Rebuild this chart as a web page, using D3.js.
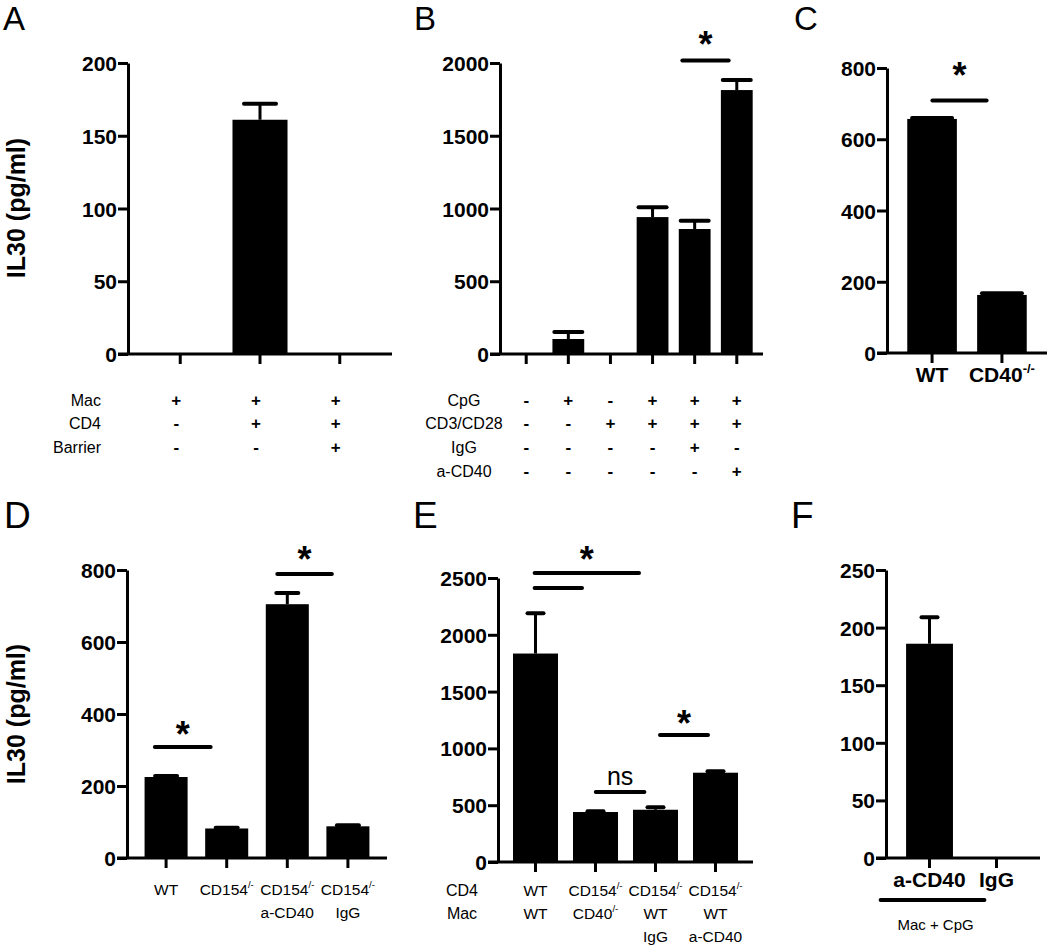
<!DOCTYPE html>
<html>
<head>
<meta charset="utf-8">
<script src="https://cdn.jsdelivr.net/npm/d3@7"></script>
<style>
  html, body { margin: 0; padding: 0; background: #fff; }
  svg { display: block; }
</style>
</head>
<body>
<svg id="chart" width="1050" height="948"></svg>
<script>
// ---------------- DATA ----------------
// Panel A
const aCats = ["Mac", "Mac+CD4", "Mac+CD4+Barrier"];
const aValues = [0, 161, 0];
const aErrors = [0, 11, 0];
const aTicks = [0, 50, 100, 150, 200];
const aRowNames = ["Mac", "CD4", "Barrier"];
const aRowSigns = [["+", "+", "+"], ["-", "+", "+"], ["-", "-", "+"]];

// Panel B
const bCats = ["none", "CpG", "CD3/CD28", "CpG+CD3/CD28", "CpG+CD3/CD28+IgG", "CpG+CD3/CD28+a-CD40"];
const bValues = [0, 103, 0, 941, 859, 1814];
const bErrors = [0, 48, 0, 67, 57, 69];
const bTicks = [0, 500, 1000, 1500, 2000];
const bRowNames = ["CpG", "CD3/CD28", "IgG", "a-CD40"];
const bRowSigns = [
  ["-", "+", "-", "+", "+", "+"],
  ["-", "-", "+", "+", "+", "+"],
  ["-", "-", "-", "-", "+", "-"],
  ["-", "-", "-", "-", "-", "+"]
];
const bSig = [{ from: 3.83, to: 4.93, value: 2017, label: "*", labelValue: 2179 }];

// Panel C
const cCats = ["WT", "CD40"];
const cSup = ["", "-/-"];
const cValues = [657, 163];
const cErrors = [3, 5];
const cTicks = [0, 200, 400, 600, 800];
const cSig = [{ from: 0.15, to: 0.925, value: 709, label: "*", labelValue: 800 }];

// Panel D
const dCats = ["WT", "CD154-/-", "CD154-/- a-CD40", "CD154-/- IgG"];
const dLabels = [
  [["WT", ""]],
  [["CD154", "/-"]],
  [["CD154", "/-"], ["a-CD40", ""]],
  [["CD154", "/-"], ["IgG", ""]]
];
const dValues = [225, 82, 705, 88];
const dErrors = [3, 2, 31, 3];
const dTicks = [0, 200, 400, 600, 800];
const dSig = [
  { from: -0.04, to: 0.88, value: 308, label: "*", labelValue: 364 },
  { from: 1.98, to: 2.88, value: 789, label: "*", labelValue: 850 }
];

// Panel E
const eCats = ["WT/WT", "CD154-/-/CD40-/-", "CD154-/-/WT IgG", "CD154-/-/WT a-CD40"];
const eRowNames = ["CD4", "Mac"];
const eLabels = [
  [["WT", ""], ["WT", ""]],
  [["CD154", "/-"], ["CD40", "/-"]],
  [["CD154", "/-"], ["WT", ""], ["IgG", ""]],
  [["CD154", "/-"], ["WT", ""], ["a-CD40", ""]]
];
const eValues = [1835, 440, 460, 786];
const eErrors = [355, 6, 22, 12];
const eTicks = [0, 500, 1000, 1500, 2000, 2500];
const eSig = [
  { from: 0.11, to: 1.85, value: 2544, label: "*", labelValue: 2729 },
  { from: 0.11, to: 0.9, value: 2412, label: "", labelValue: 0 },
  { from: 1.13, to: 1.94, value: 616, label: "ns", labelValue: 735 },
  { from: 2.2, to: 3.0, value: 1118, label: "*", labelValue: 1285 }
];

// Panel F
const fCats = ["a-CD40", "IgG"];
const fValues = [186, 0];
const fErrors = [23, 0];
const fTicks = [0, 50, 100, 150, 200, 250];
const fGroup = { from: -0.58, to: 0.97, label: "Mac + CpG" };

const yTitle = "IL30 (pg/ml)";

// ---------------- DRAWING ----------------
const FONT = "'Liberation Sans', Arial, Helvetica, sans-serif";
const svg = d3.select("#chart");

function panel(cfg) {
  const g = svg.append("g");
  const x = d3.scaleBand().domain(d3.range(cfg.values.length)).range([cfg.x0, cfg.x1]).padding(cfg.padding);
  const y = d3.scaleLinear().domain([0, cfg.ticks[cfg.ticks.length - 1]]).range([cfg.yBottom, cfg.yTop]);
  const step = x.step();
  const cx = i => x(i) + x.bandwidth() / 2;
  const pos = f => cfg.x0 + step * (f + 0.5);

  // bars
  g.selectAll("rect.bar").data(cfg.values).join("rect")
    .attr("x", (d, i) => x(i)).attr("width", x.bandwidth())
    .attr("y", d => y(d)).attr("height", d => y(0) - y(d))
    .attr("fill", "#000");

  // error bars (upper only)
  cfg.values.forEach((v, i) => {
    const e = cfg.errors[i];
    if (!e) return;
    g.append("line").attr("x1", cx(i)).attr("x2", cx(i)).attr("y1", y(v)).attr("y2", y(v + e))
      .attr("stroke", "#000").attr("stroke-width", 3);
    g.append("line").attr("x1", cx(i) - cfg.capW / 2).attr("x2", cx(i) + cfg.capW / 2)
      .attr("y1", y(v + e)).attr("y2", y(v + e))
      .attr("stroke", "#000").attr("stroke-width", 4).attr("stroke-linecap", "round");
  });

  // y axis
  const ya = g.append("g").attr("transform", `translate(${cfg.x0},0)`)
    .call(d3.axisLeft(y).tickValues(cfg.ticks).tickFormat(d3.format("d"))
      .tickSize(10).tickSizeOuter(0).tickPadding(1));
  ya.selectAll("path,line").attr("stroke", "#000").attr("stroke-width", 3);
  ya.selectAll("text").attr("font-family", FONT).attr("font-weight", "bold")
    .attr("font-size", 21).attr("fill", "#000").attr("dy", "0.36em");

  // x axis
  const xa = g.append("g").attr("transform", `translate(0,${cfg.yBottom})`)
    .call(d3.axisBottom(x).tickSize(10).tickSizeOuter(0).tickFormat(""));
  xa.select("path").attr("d", `M${cfg.x0 - 10},0H${cfg.x1}`);
  xa.selectAll("path,line").attr("stroke", "#000").attr("stroke-width", 3);

  // significance annotations
  (cfg.sig || []).forEach(s => {
    const x1 = pos(s.from), x2 = pos(s.to);
    g.append("line").attr("x1", x1).attr("x2", x2).attr("y1", y(s.value)).attr("y2", y(s.value))
      .attr("stroke", "#000").attr("stroke-width", 4).attr("stroke-linecap", "round");
    if (s.label) {
      const isStar = s.label === "*";
      const fs = isStar ? 36 : 25;
      g.append("text").attr("x", (x1 + x2) / 2).attr("y", y(s.labelValue) + (isStar ? 0.56 : 0.26) * fs)
        .attr("text-anchor", "middle").attr("font-family", FONT)
        .attr("font-weight", isStar ? "bold" : "normal").attr("font-size", fs).text(s.label);
    }
  });

  return { g, x, y, cx, pos };
}

function richText(g, xx, yy, parts, fs, weight, anchor) {
  const t = g.append("text").attr("x", xx).attr("y", yy).attr("text-anchor", anchor || "middle")
    .attr("font-family", FONT).attr("font-size", fs).attr("font-weight", weight || "normal").attr("fill", "#000");
  t.append("tspan").text(parts[0]);
  if (parts[1]) {
    t.append("tspan").attr("dy", -0.42 * fs).attr("font-size", fs * 0.62).text(parts[1]);
  }
  return t;
}

function letter(txt, xx, yy, fs) {
  svg.append("text").attr("x", xx).attr("y", yy).attr("font-family", FONT).attr("font-size", fs)
    .attr("fill", "#000").text(txt);
}

function ytitle(xx, yy) {
  svg.append("text").attr("transform", `translate(${xx},${yy}) rotate(-90)`)
    .attr("text-anchor", "middle").attr("font-family", FONT).attr("font-weight", "bold")
    .attr("font-size", 25).text(yTitle);
}

// ---- Panel A ----
letter("A", 3, 30, 33);
ytitle(25, 208);
const A = panel({ values: aValues, errors: aErrors, ticks: aTicks, x0: 128, x1: 392, yTop: 63, yBottom: 354, padding: 0.31, capW: 32 });
const rowBase = [406, 429, 453, 477];
aRowNames.forEach((n, r) => {
  A.g.append("text").attr("x", 101).attr("y", rowBase[r]).attr("text-anchor", "end")
    .attr("font-family", FONT).attr("font-size", 16).text(n);
  aRowSigns[r].forEach((s, i) => {
    A.g.append("text").attr("x", A.cx(i) - 4).attr("y", rowBase[r]).attr("text-anchor", "middle")
      .attr("font-family", FONT).attr("font-weight", "bold").attr("font-size", 17).text(s);
  });
});

// ---- Panel B ----
letter("B", 414, 30, 33);
const B = panel({ values: bValues, errors: bErrors, ticks: bTicks, x0: 500, x1: 763, yTop: 63, yBottom: 354, padding: 0.245, capW: 28, sig: bSig });
bRowNames.forEach((n, r) => {
  B.g.append("text").attr("x", 464).attr("y", rowBase[r]).attr("text-anchor", "middle")
    .attr("font-family", FONT).attr("font-size", 16).text(n);
  bRowSigns[r].forEach((s, i) => {
    B.g.append("text").attr("x", B.cx(i)).attr("y", rowBase[r]).attr("text-anchor", "middle")
      .attr("font-family", FONT).attr("font-weight", "bold").attr("font-size", 17).text(s);
  });
});

// ---- Panel C ----
letter("C", 794, 30, 33);
const C = panel({ values: cValues, errors: cErrors, ticks: cTicks, x0: 887, x1: 1047, yTop: 68, yBottom: 353, padding: 0.29, capW: 40, sig: cSig });
cCats.forEach((c, i) => richText(C.g, C.cx(i), 382, [c, cSup[i]], 21, "bold"));

// ---- Panel D ----
letter("D", 4, 528, 37);
ytitle(25, 714);
const D = panel({ values: dValues, errors: dErrors, ticks: dTicks, x0: 127, x1: 387, yTop: 570, yBottom: 858, padding: 0.29, capW: 22, sig: dSig });
dLabels.forEach((lines, i) => lines.forEach((p, r) => richText(D.g, D.cx(i), 895 + r * 23, p, 15.5)));

// ---- Panel E ----
letter("E", 413, 528, 37);
const E = panel({ values: eValues, errors: eErrors, ticks: eTicks, x0: 498, x1: 753, yTop: 578, yBottom: 862, padding: 0.25, capW: 16, sig: eSig });
eRowNames.forEach((n, r) => {
  E.g.append("text").attr("x", 462).attr("y", 896 + r * 23).attr("text-anchor", "middle")
    .attr("font-family", FONT).attr("font-size", 16).text(n);
});
eLabels.forEach((lines, i) => lines.forEach((p, r) => richText(E.g, E.cx(i), 896 + r * 23, p, 15.5)));

// ---- Panel F ----
letter("F", 791, 528, 37);
const F = panel({ values: fValues, errors: fErrors, ticks: fTicks, x0: 886, x1: 1040, yTop: 570, yBottom: 858, padding: 0.3, capW: 16 });
fCats.forEach((c, i) => richText(F.g, F.cx(i), 887, [c, ""], 21, "bold"));
{
  const x1 = F.pos(fGroup.from), x2 = F.pos(fGroup.to);
  F.g.append("line").attr("x1", x1).attr("x2", x2).attr("y1", 900).attr("y2", 900)
    .attr("stroke", "#000").attr("stroke-width", 4).attr("stroke-linecap", "round");
  F.g.append("text").attr("x", (x1 + x2) / 2 + 3).attr("y", 930).attr("text-anchor", "middle")
    .attr("font-family", FONT).attr("font-size", 15).text(fGroup.label);
}
</script>
</body>
</html>
